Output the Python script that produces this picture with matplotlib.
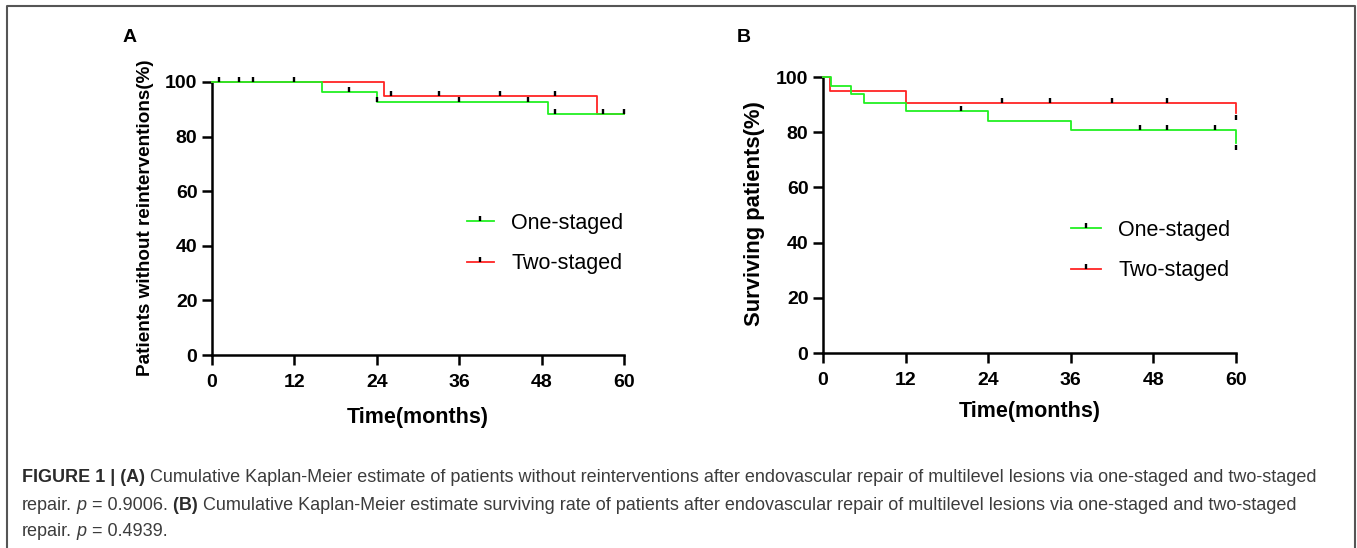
import numpy as np
import matplotlib
matplotlib.use('Agg')
import matplotlib.pyplot as plt
from matplotlib.lines import Line2D
from matplotlib.path import Path

plt.rcParams['font.family'] = ['Liberation Sans', 'DejaVu Sans']

W, H = 1357, 548
GREEN = '#22f022'
RED = '#ff2424'

# --- panel A: patients without reinterventions (%) ---
a_one_t = [0, 16, 24, 49, 60]
a_one_s = [100, 96.4, 92.6, 88.3, 88.3]
a_two_t = [0, 25, 56, 60]
a_two_s = [100, 95.0, 88.4, 88.4]
a_one_cens_t = [1, 6, 20, 24, 36, 46, 50, 57]
a_one_cens_s = [100, 100, 96.4, 92.6, 92.6, 92.6, 88.3, 88.3]
a_two_cens_t = [4, 12, 26, 33, 42, 50, 60]
a_two_cens_s = [100, 100, 95, 95, 95, 95, 88.4]

# --- panel B: surviving patients (%) ---
b_one_t = [0, 1.2, 4, 6, 12, 24, 36, 60]
b_one_s = [100, 96.7, 93.8, 90.5, 87.5, 84.1, 80.8, 76.0]
b_two_t = [0, 1.0, 12, 60]
b_two_s = [100, 95.0, 90.5, 87.1]
b_one_cens_t = [20, 46, 50, 57, 60]
b_one_cens_s = [87.5, 80.8, 80.8, 80.8, 73.6]
b_two_cens_t = [26, 33, 42, 50, 60]
b_two_cens_s = [90.5, 90.5, 90.5, 90.5, 84.5]

x_ticks = [0, 12, 24, 36, 48, 60]
y_ticks = [0, 20, 40, 60, 80, 100]
labels = ['One-staged', 'Two-staged']

TICK = Path([(0, 0), (0, 1)])  # censor mark drawn upward from the curve


def px(x, y):
    return x / W, 1 - y / H


def rect(x0, x1, y_top, y_bot):
    return [x0 / W, 1 - y_bot / H, (x1 - x0) / W, (y_bot - y_top) / H]


fig = plt.figure(figsize=(W / 100, H / 100), dpi=100)


def km_panel(r, one, two, ylabel, ylab_size, ylab_xy, xlab_xy, leg_xy, handlelen, letter, let_xy):
    ax = fig.add_axes(r)
    for (t, s, ct, cs), col in [(two, RED), (one, GREEN)]:
        ax.step(t, s, where='post', color=col, lw=1.3, clip_on=False, zorder=3)
        ax.plot(ct, cs, ls='none', marker=TICK, ms=7, mec='black', mew=1.7,
                clip_on=False, zorder=4)
    ax.set_xlim(0, 60)
    ax.set_ylim(0, 100)
    for sp in ['top', 'right']:
        ax.spines[sp].set_visible(False)
    for sp in ['left', 'bottom']:
        ax.spines[sp].set_linewidth(1.8)
    ax.set_xticks(x_ticks, [str(v) for v in x_ticks], fontweight='bold')
    ax.set_yticks(y_ticks, [str(v) for v in y_ticks], fontweight='bold')
    ax.tick_params(direction='out', length=7, width=1.8, labelsize=14)
    ax.tick_params(axis='x', pad=7)
    ax.tick_params(axis='y', pad=3.5)
    fig.text(*px(*ylab_xy), ylabel, rotation=90, ha='center', va='center',
             fontsize=ylab_size, fontweight='bold')
    fig.text(*px(*xlab_xy), 'Time(months)', ha='center', va='center',
             fontsize=15.5, fontweight='bold')
    fig.text(*px(*let_xy), letter, ha='center', va='center',
             fontsize=14, fontweight='bold')
    handles = [Line2D([], [], color=c, lw=1.3, marker=TICK, ms=7, mec='black', mew=1.7)
               for c in (GREEN, RED)]
    ax.legend(handles, labels, loc='center left', bbox_to_anchor=px(*leg_xy),
              bbox_transform=fig.transFigure, frameon=False, fontsize=15.5,
              borderpad=0, borderaxespad=0, handlelength=handlelen,
              handletextpad=0.8, labelspacing=0.9, numpoints=1)
    return ax


km_panel(rect(212, 624, 82, 355),
         (a_one_t, a_one_s, a_one_cens_t, a_one_cens_s),
         (a_two_t, a_two_s, a_two_cens_t, a_two_cens_s),
         'Patients without reinterventions(%)', 13.6, (145, 218), (418, 418),
         (467, 243.5), 1.25, 'A', (130, 38))
km_panel(rect(823, 1236, 77, 353),
         (b_one_t, b_one_s, b_one_cens_t, b_one_cens_s),
         (b_two_t, b_two_s, b_two_cens_t, b_two_cens_s),
         'Surviving patients(%)', 15.8, (755, 214), (1030, 412),
         (1071, 250.5), 1.4, 'B', (744, 37))

# frame around the figure (top, left, right)
fig.add_artist(Line2D([7 / W, 7 / W, 1355 / W, 1355 / W], [0, 1 - 6 / H, 1 - 6 / H, 0],
                      color='#555555', lw=1.5, transform=fig.transFigure))

# caption, drawn as runs of mixed weight/style
renderer = fig.canvas.get_renderer()
CAP = 13.0


def runs(x, y, parts):
    x = x / W
    for s, weight, style in parts:
        t = fig.text(x, 1 - y / H, s, fontsize=CAP, fontweight=weight, fontstyle=style,
                     color='#2b2b2b' if weight == 'bold' else '#3c3c3c', va='center')
        x += t.get_window_extent(renderer).width / W


runs(22, 478, [('FIGURE 1 | (A)', 'bold', 'normal'),
               (' Cumulative Kaplan-Meier estimate of patients without reinterventions after '
                'endovascular repair of multilevel lesions via one-staged and two-staged',
                'normal', 'normal')])
runs(22, 505, [('repair.', 'normal', 'normal'), (' p', 'normal', 'italic'),
               (' = 0.9006.', 'normal', 'normal'), (' (B)', 'bold', 'normal'),
               (' Cumulative Kaplan-Meier estimate surviving rate of patients after '
                'endovascular repair of multilevel lesions via one-staged and two-staged',
                'normal', 'normal')])
runs(22, 532, [('repair.', 'normal', 'normal'), (' p', 'normal', 'italic'),
               (' = 0.4939.', 'normal', 'normal')])

fig.savefig('out.png', dpi=100)
